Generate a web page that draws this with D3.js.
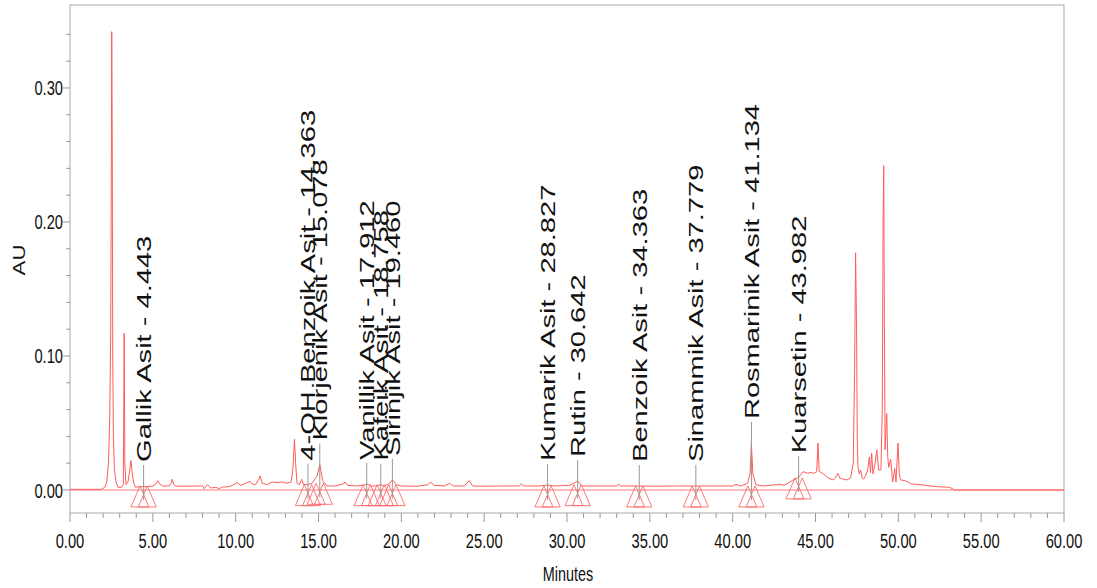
<!DOCTYPE html>
<html><head><meta charset="utf-8">
<script src="https://cdn.jsdelivr.net/npm/d3@7"></script>
<style>body{margin:0;background:#fff}svg{display:block}text{font-family:"Liberation Sans",Arial,sans-serif;fill:#111}</style>
</head><body><svg id="c" width="1097" height="588"></svg>
<script>
// ---- data ----
const traceTime=[0,1.9,2.1,2.22,2.32,2.4,2.46,2.5,2.52,2.55,2.58,2.62,2.68,2.78,2.9,3.1,3.22,3.27,3.31,3.38,3.5,3.6,3.68,3.76,3.85,3.95,4.2,4.6,5.0,5.15,5.3,5.45,5.6,6.0,6.1,6.17,6.27,6.4,7.0,7.6,8.0,8.1,8.3,8.5,8.8,9.0,9.2,9.6,9.9,10.1,10.3,10.6,10.87,11.0,11.2,11.4,11.47,11.6,11.9,12.2,12.5,12.8,13.1,13.35,13.45,13.55,13.62,13.7,13.85,13.98,14.1,14.36,14.6,14.9,15.08,15.25,15.5,16.0,16.5,16.6,16.75,17.3,17.7,17.91,18.2,18.5,18.76,19.0,19.3,19.46,19.7,20.0,21.0,21.6,21.77,21.95,22.6,22.94,23.1,23.8,24.1,24.3,25,26,27.1,27.26,27.4,28.3,28.83,29.3,30.2,30.64,30.9,32,33.0,33.1,33.25,34.36,35.5,36.5,37.78,39,40.0,40.2,40.5,40.9,41.05,41.13,41.22,41.4,41.8,42.3,42.86,43.1,43.4,43.65,43.98,44.15,44.25,44.5,44.67,44.9,45.07,45.15,45.22,45.47,45.76,46.06,46.2,46.36,46.45,46.58,46.88,47.12,47.28,47.36,47.42,47.48,47.52,47.56,47.64,47.72,47.82,47.9,48.04,48.15,48.25,48.32,48.39,48.47,48.6,48.7,48.81,48.95,49.03,49.08,49.12,49.16,49.2,49.3,49.36,49.42,49.54,49.66,49.78,49.86,49.98,50.06,50.14,50.4,50.8,51.5,52.3,53.1,53.4,60];
const traceAU=[0.0005,0.0005,0.002,0.006,0.02,0.055,0.12,0.26,0.342,0.26,0.1,0.04,0.015,0.006,0.002,0.002,0.004,0.117,0.02,0.004,0.006,0.014,0.022,0.012,0.005,0.002,0.0025,0.0025,0.003,0.004,0.007,0.004,0.003,0.003,0.005,0.008,0.004,0.0028,0.0028,0.003,0.003,0.001,0.004,0.0015,0.002,0.001,0.0022,0.0025,0.004,0.0055,0.0035,0.005,0.0065,0.0045,0.004,0.008,0.0105,0.005,0.004,0.006,0.0055,0.006,0.005,0.006,0.015,0.038,0.02,0.005,0.004,0.008,0.004,0.004,0.005,0.01,0.019,0.007,0.003,0.003,0.0045,0.006,0.0035,0.003,0.0035,0.0045,0.003,0.003,0.004,0.003,0.005,0.0075,0.004,0.003,0.0028,0.004,0.006,0.0035,0.003,0.005,0.003,0.003,0.007,0.003,0.0028,0.003,0.003,0.0045,0.003,0.003,0.0037,0.003,0.0035,0.0067,0.003,0.003,0.003,0.0042,0.003,0.003,0.0028,0.003,0.003,0.003,0.003,0.0042,0.003,0.005,0.012,0.035,0.012,0.004,0.003,0.0035,0.0042,0.0035,0.0055,0.0075,0.0095,0.012,0.0137,0.0125,0.013,0.0125,0.0137,0.035,0.014,0.012,0.009,0.0075,0.009,0.0124,0.009,0.0085,0.0075,0.009,0.02,0.09,0.177,0.12,0.04,0.0174,0.012,0.015,0.009,0.008,0.011,0.015,0.0246,0.013,0.0274,0.012,0.02,0.03,0.015,0.015,0.06,0.2,0.242,0.12,0.03,0.057,0.025,0.017,0.023,0.006,0.016,0.006,0.035,0.012,0.0075,0.007,0.0045,0.0037,0.0025,0.002,0,0];

const peakNames=["Gallik Asit","4-OH Benzoik Asit","Klorjenik Asit","Vanillik Asit","Kafeik Asit","Sirinjik Asit","Kumarik Asit","Rutin","Benzoik Asit","Sinammik Asit","Rosmarinik Asit","Kuarsetin"];
const peakTimes=[4.443,14.363,15.078,17.912,18.758,19.460,28.827,30.642,34.363,37.779,41.134,43.982];
const peakApexAU=[0.003,0.004,0.019,0.0045,0.004,0.0075,0.0037,0.0067,0.003,0.003,0.035,0.0095];
const peakBaseAU=[0.003,0.004,0.005,0.004,0.004,0.004,0.003,0.004,0.003,0.003,0.003,0.009];

const xTicksMinor=d3.range(0,61,1);
const xTicksLabeled=[0,5,10,15,20,25,30,35,40,45,50,55,60];
const yTicksMinor=d3.range(0,0.345,0.02);
const yTicksLabeled=[0,0.1,0.2,0.3];

// ---- drawing ----
const svg=d3.select("#c");
const L=70,R=1064,T=5,B=513;
const x=d3.scaleLinear().domain([0,60]).range([L,R]);
const y=d3.scaleLinear().domain([-0.01716,0.3619]).range([B,T]);
const gray="#a8a8a8";

// frame
svg.append("rect").attr("x",L).attr("y",T).attr("width",R-L).attr("height",B-T)
  .attr("fill","none").attr("stroke",gray).attr("stroke-width",1);

// y ticks
svg.append("g").selectAll("line").data(yTicksMinor).join("line")
  .attr("x1",d=>L-(yTicksLabeled.some(v=>Math.abs(v-d)<1e-6)?7:4)).attr("x2",L)
  .attr("y1",d=>y(d)).attr("y2",d=>y(d)).attr("stroke","#999");
svg.append("g").selectAll("text").data(yTicksLabeled).join("text")
  .attr("transform",d=>`translate(${L-7},${y(d)+7.5}) scale(0.7,1)`)
  .attr("text-anchor","end").attr("font-size",21).text(d3.format(".2f"));

// x ticks
svg.append("g").selectAll("line").data(xTicksMinor).join("line")
  .attr("x1",d=>x(d)).attr("x2",d=>x(d)).attr("y1",B)
  .attr("y2",d=>B+(d%5===0?9:5)).attr("stroke","#999");
svg.append("g").selectAll("text").data(xTicksLabeled).join("text")
  .attr("transform",d=>`translate(${x(d)},548) scale(0.7,1)`)
  .attr("text-anchor","middle").attr("font-size",21).text(d3.format(".2f"));

// axis titles
svg.append("text").attr("transform","translate(568,581) scale(0.72,1)")
  .attr("text-anchor","middle").attr("font-size",20).text("Minutes");
svg.append("text").attr("transform","translate(25,260) rotate(-90) scale(1.385,1)")
  .attr("text-anchor","middle").attr("font-size",16).text("AU");

// zero baseline
svg.append("line").attr("x1",L).attr("x2",R).attr("y1",y(0)).attr("y2",y(0))
  .attr("stroke","#ff7a7a").attr("stroke-width",1);

// trace
const pts=traceTime.map((t,i)=>[t,traceAU[i]]);
svg.append("path").datum(pts)
  .attr("d",d3.line().x(d=>x(d[0])).y(d=>y(d[1])))
  .attr("fill","none").attr("stroke","#ff5c5c").attr("stroke-width",1).attr("stroke-linejoin","round");

// peak markers (start/end triangles)
const tri=svg.append("g").attr("fill","none").attr("stroke","#ff6a6a").attr("stroke-width",0.9);
peakTimes.forEach((t,i)=>{
  const ay=y(peakBaseAU[i]);
  [-0.22,0.22].forEach(o=>{
    const cx=x(t+o);
    tri.append("path").attr("d",`M${cx},${ay}L${cx-9},${ay+21}L${cx+9},${ay+21}Z`);
  });
});

// label lines + labels
const lab=svg.append("g");
peakTimes.forEach((t,i)=>{
  const px=x(t), yb=y(peakApexAU[i])-24;
  lab.append("line").attr("x1",px).attr("x2",px).attr("y1",yb+3).attr("y2",y(peakBaseAU[i])+14)
    .attr("stroke","#999").attr("stroke-width",1);
  lab.append("text").attr("transform",`translate(${px},${yb}) rotate(-90) scale(1.385,1)`)
    .attr("text-anchor","start").attr("dy","0.35em").attr("font-size",21)
    .text(`${peakNames[i]} - ${peakTimes[i].toFixed(3)}`);
});
</script></body></html>
